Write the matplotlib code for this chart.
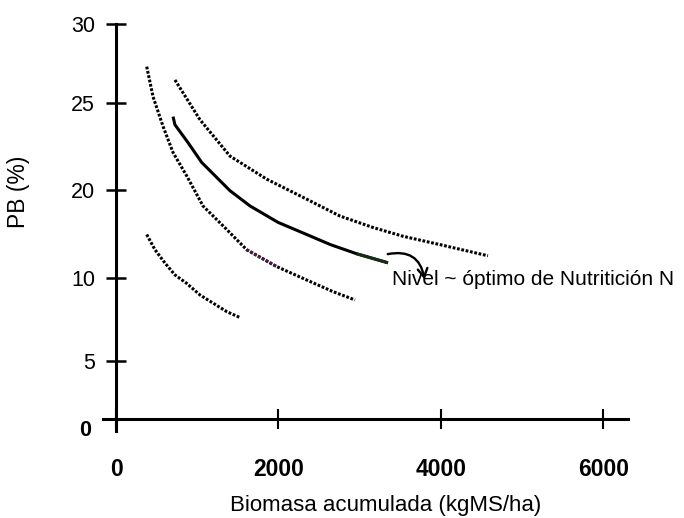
import numpy as np
import matplotlib
matplotlib.use("Agg")
import matplotlib.pyplot as plt
from matplotlib.transforms import ScaledTranslation

plt.rcParams['font.family'] = ['Liberation Sans', 'DejaVu Sans']

# curves (x = kgMS/ha, y = PB %)
upper_x = [726, 1034, 1404, 1855, 2348, 2758, 3164, 3534, 3989, 4580]
upper_y = [26.45, 24.02, 21.93, 20.61, 18.93, 17.01, 15.71, 14.71, 13.76, 12.49]

optimo_x = [702, 726, 886, 1055, 1404, 1650, 1995, 2348, 2640, 2963, 3349]
optimo_y = [24.2, 23.73, 22.71, 21.57, 19.89, 18.16, 16.29, 14.91, 13.76, 12.72, 11.69]

mid_x = [378, 456, 579, 702, 870, 1071, 1363, 1609, 1979, 2348, 2672, 2943]
mid_y = [27.30, 25.38, 23.64, 22.14, 20.80, 18.16, 15.48, 13.18, 11.26, 9.86, 9.16, 8.66]

low_x = [378, 480, 603, 726, 870, 1034, 1198, 1363, 1518]
low_y = [14.91, 13.18, 11.66, 10.31, 9.66, 8.96, 8.46, 7.96, 7.62]

x_ticks = [0, 2000, 4000, 6000]
y_ticks = [5, 10, 20, 25, 30]

# the printed axis is not evenly spaced: label value -> drawn position
y_vals = [-100, 0, 5, 10, 20, 25, 30, 130]
y_pos = [-100, 0, 4.43, 10.75, 17.43, 24.05, 30, 130]


def fwd(v):
    return np.interp(v, y_vals, y_pos)


def inv(p):
    return np.interp(p, y_pos, y_vals)


fig = plt.figure(figsize=(6.84, 5.18), dpi=100)
ax = fig.add_axes([0.1506, 0.168, 0.7675, 0.785])
ax.set_yscale('function', functions=(fwd, inv))

dots = (0, (0.9, 0.55))
ax.plot(upper_x, upper_y, color='black', lw=2.2, linestyle=dots)
ax.plot(mid_x, mid_y, color='black', lw=2.2, linestyle=dots)
ax.plot(mid_x[7:9], mid_y[7:9], color='#4a1848', lw=2.2, linestyle=dots)
ax.plot(low_x, low_y, color='black', lw=2.2, linestyle=dots)
ax.plot(optimo_x, optimo_y, color='black', lw=2.2, solid_capstyle='butt')
ax.plot(optimo_x[-2:], optimo_y[-2:], color='#142e14', lw=2.2, solid_capstyle='butt')

ax.annotate('', xy=(3804, 9.74), xytext=(3312, 12.61),
            arrowprops=dict(arrowstyle='->,head_length=0.6,head_width=0.35',
                            color='black', lw=1.7,
                            connectionstyle='arc3,rad=-0.55'))
ax.text(3394, 9.86, 'Nivel ~ óptimo de Nutritición N', fontsize=15,
        ha='left', va='center')

ax.set_xlim(-160, 6304)
ax.set_ylim(-0.9, 30)
ax.spines['top'].set_visible(False)
ax.spines['right'].set_visible(False)
ax.spines['left'].set_position(('data', 0))
ax.spines['bottom'].set_position(('data', 0))
ax.spines['left'].set_linewidth(2.2)
ax.spines['bottom'].set_linewidth(2.2)

ax.set_xticks(x_ticks)
ax.set_xticklabels([str(t) for t in x_ticks], fontsize=16.5, fontweight='bold')
shift = ScaledTranslation(-4 / 100, 0, fig.dpi_scale_trans)
for lab in ax.get_xticklabels():
    lab.set_transform(lab.get_transform() + shift)
ax.set_yticks(y_ticks)
ax.set_yticklabels([str(t) for t in y_ticks], fontsize=15.5)
ax.yaxis.set_minor_locator(matplotlib.ticker.NullLocator())
ax.tick_params(axis='x', direction='inout', length=14, width=1.5, pad=21)
ax.tick_params(axis='y', direction='inout', length=14, width=1.8, pad=8)
ax.annotate('0', xy=(0, 0), xytext=(-22, -8), textcoords='offset points',
            fontsize=15.5, fontweight='bold', ha='center', va='center')

ax.set_xlabel('Biomasa acumulada (kgMS/ha)', fontsize=16)
ax.xaxis.set_label_coords(0.539, -0.158)
ax.set_ylabel('PB (%)', fontsize=16.5)
ax.yaxis.set_label_coords(-0.139, 0.588)

fig.savefig('out.png', dpi=100)
